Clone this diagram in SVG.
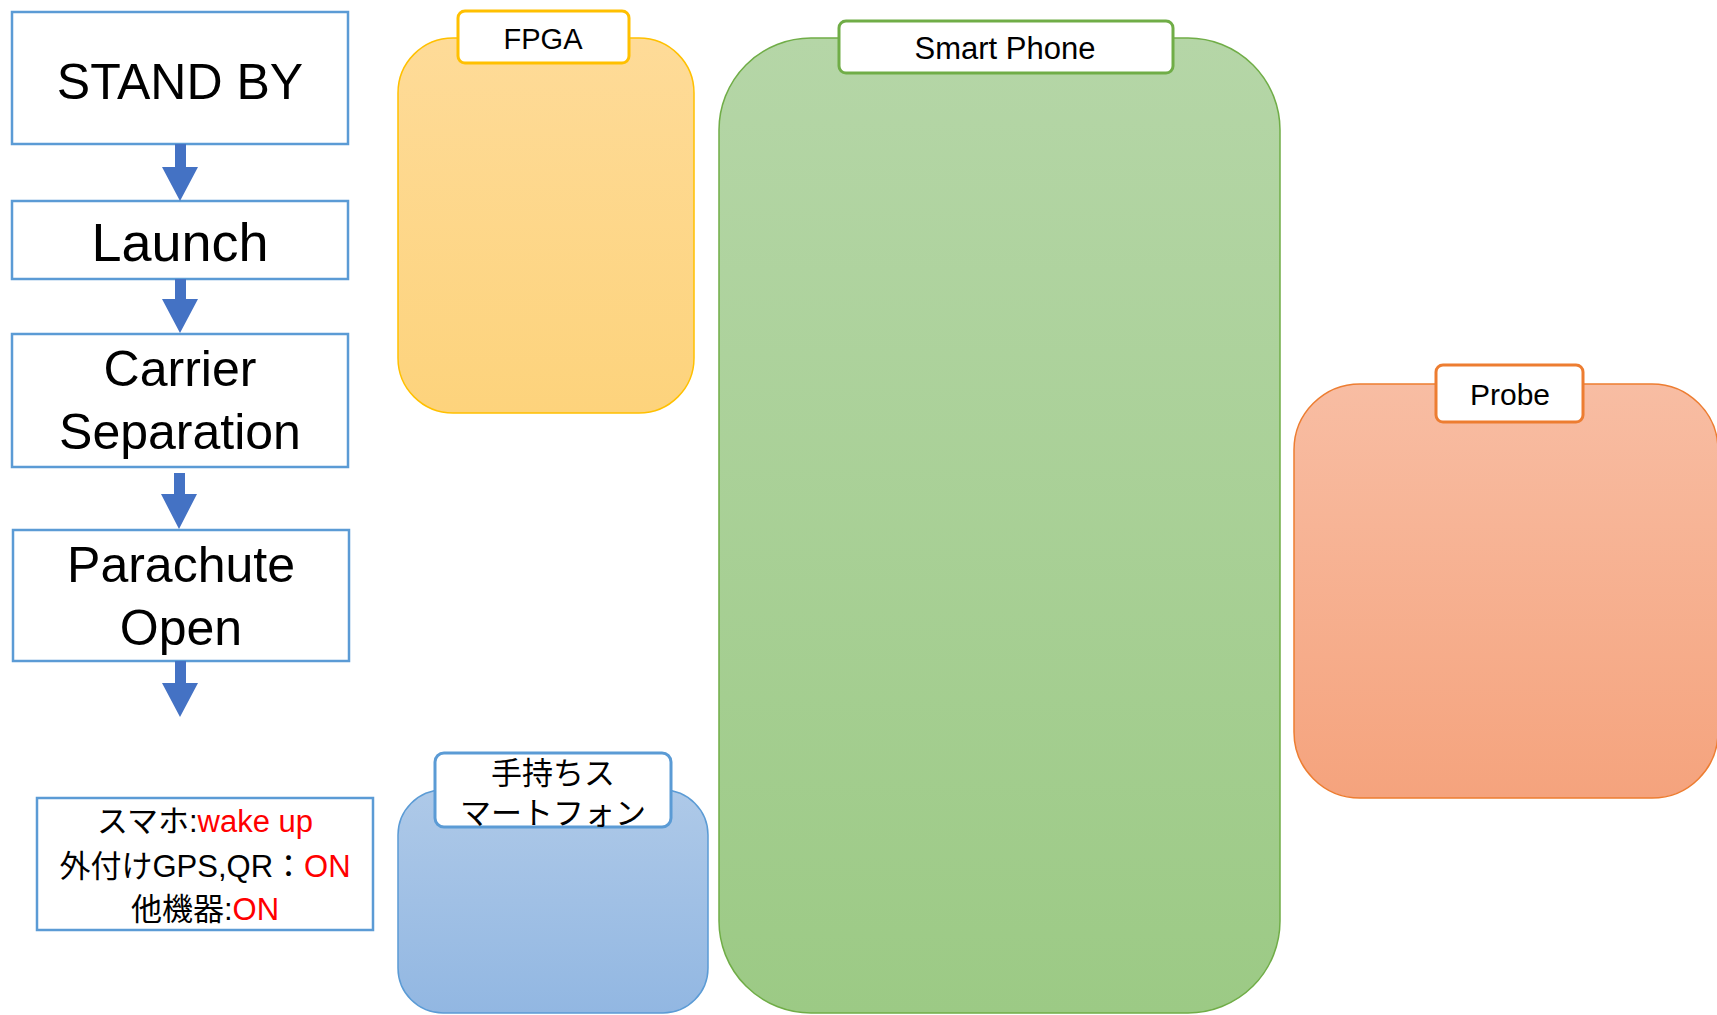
<svg xmlns="http://www.w3.org/2000/svg" width="1717" height="1015" viewBox="0 0 1717 1015">
<style>
.step{fill:#fff;stroke:#5B9BD5;stroke-width:2.5}
.stepText{font-family:"Liberation Sans",Arial,sans-serif;font-size:50px;fill:#000;text-anchor:middle}
.arrow{fill:#4472C4}
.lbl{fill:#fff;stroke-width:3}
.lblText{font-family:"Liberation Sans","Noto Sans CJK JP",sans-serif;font-size:28px;fill:#000;text-anchor:middle}
.note{font-family:"Liberation Sans","Noto Sans CJK JP",sans-serif;font-size:31px;fill:#000;text-anchor:middle}
.red{fill:#FF0000}
</style>
<defs>
<linearGradient id="gY" x1="0" y1="0" x2="0" y2="1"><stop offset="0" stop-color="#FEDB98"/><stop offset="1" stop-color="#FDD37C"/></linearGradient>
<linearGradient id="gG" x1="0" y1="0" x2="0" y2="1"><stop offset="0" stop-color="#B5D6A7"/><stop offset="1" stop-color="#9CCA85"/></linearGradient>
<linearGradient id="gO" x1="0" y1="0" x2="0" y2="1"><stop offset="0" stop-color="#F8BDA3"/><stop offset="1" stop-color="#F5A37D"/></linearGradient>
<linearGradient id="gB" x1="0" y1="0" x2="0" y2="1"><stop offset="0" stop-color="#AEC9E8"/><stop offset="1" stop-color="#92B7E2"/></linearGradient>
</defs>
<rect width="1717" height="1015" fill="#fff"/>

<g id="standby">
<rect class="step" x="12" y="12" width="336" height="132"/>
<text class="stepText" x="180" y="99">STAND BY</text>
</g>
<g id="launch">
<rect class="step" x="12" y="201" width="336" height="78"/>
<text class="stepText" x="180" y="261" style="font-size:54px">Launch</text>
</g>
<g id="carrier">
<rect class="step" x="12" y="334" width="336" height="133"/>
<text class="stepText" x="180" y="386">Carrier</text>
<text class="stepText" x="180" y="449">Separation</text>
</g>
<g id="parachute">
<rect class="step" x="13" y="530" width="336" height="131"/>
<text class="stepText" x="181" y="582">Parachute</text>
<text class="stepText" x="181" y="645">Open</text>
</g>
<g id="status">
<rect class="step" x="37" y="798" width="336" height="132"/>
<text class="note" x="205" y="832">スマホ:<tspan class="red">wake up</tspan></text>
<text class="note" x="205" y="877">外付けGPS,QR：<tspan class="red">ON</tspan></text>
<text class="note" x="205" y="920">他機器:<tspan class="red">ON</tspan></text>
</g>

<g id="connectors">
<polygon class="arrow" points="175,144 186,144 186,167 198,167 180,201 162,167 175,167"/>
<polygon class="arrow" points="175,279 186,279 186,299 198,299 180,333 162,299 175,299"/>
<polygon class="arrow" points="174,473 185,473 185,494 197,494 179,529 161,494 174,494"/>
<polygon class="arrow" points="175,661 186,661 186,683 198,683 180,717 162,683 175,683"/>
</g>

<g id="fpga">
<rect x="398" y="38" width="296" height="375" rx="55" fill="url(#gY)" stroke="#FFC000" stroke-width="1.5"/>
<rect class="lbl" x="458" y="11" width="171" height="52" rx="7" stroke="#FFC000"/>
<text class="lblText" x="543" y="49" style="font-size:29px">FPGA</text>
</g>

<g id="smartphone">
<rect x="719" y="38" width="561" height="975" rx="92" fill="url(#gG)" stroke="#70AD47" stroke-width="1.5"/>
<rect class="lbl" x="839" y="21" width="334" height="52" rx="7" stroke="#70AD47"/>
<text class="lblText" x="1005" y="59" style="font-size:31px">Smart Phone</text>
</g>

<g id="probe">
<rect x="1294" y="384" width="424" height="414" rx="66" fill="url(#gO)" stroke="#ED7D31" stroke-width="1.5"/>
<rect class="lbl" x="1436" y="365" width="147" height="57" rx="7" stroke="#ED7D31"/>
<text class="lblText" x="1510" y="405" style="font-size:30px">Probe</text>
</g>

<g id="handphone">
<rect x="398" y="790" width="310" height="223" rx="45" fill="url(#gB)" stroke="#5B9BD5" stroke-width="1.5"/>
<rect class="lbl" x="435" y="753" width="236" height="74" rx="9" stroke="#5B9BD5"/>
<text class="lblText" x="553" y="784" style="font-size:31px">手持ちス</text>
<text class="lblText" x="553" y="824" style="font-size:31px">マートフォン</text>
</g>
</svg>
